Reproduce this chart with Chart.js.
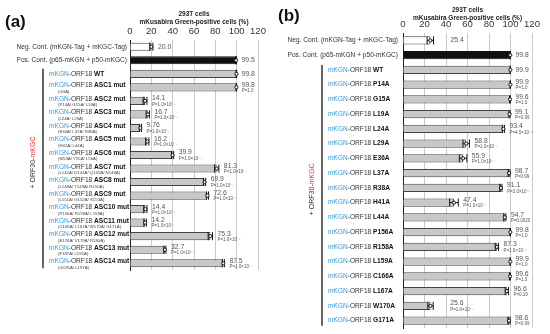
<!DOCTYPE html>
<html>
<head>
<meta charset="utf-8">
<script src="https://cdn.jsdelivr.net/npm/chart.js@4"></script>
<style>
body { margin: 0; background: #fff; width: 550px; height: 334px; overflow: hidden; position: relative; }
canvas { position: absolute; top: 0; }
</style>
</head>
<body>
<canvas id="chartA" width="275" height="334" style="left:0"></canvas>
<canvas id="chartB" width="275" height="334" style="left:275px"></canvas>
<script>
const FONT = '"Liberation Sans", Arial, sans-serif';
const P7 = 'P=1.0\u00d710\u207b\u2077';

// Panel (a): ASC mutants
const rowsA = ['Neg. Cont. (mKGN-Tag + mKGC-Tag)', 'Pos. Cont. (p65-mKGN + p50-mKGC)', 'WT',
    'ASC1 mut', 'ASC2 mut', 'ASC3 mut', 'ASC4 mut', 'ASC5 mut', 'ASC6 mut', 'ASC7 mut',
    'ASC8 mut', 'ASC9 mut', 'ASC10 mut', 'ASC11 mut', 'ASC12 mut', 'ASC13 mut', 'ASC14 mut'];
const subsA = ['', '', '', '(G3A)', '(P14A/ G15A/ L19A)', '(L24A/ L29A)', '(E36A/ L37A/ R38A)',
    '(H41A/ L44A)', '(M53A/ Y55A/ L56A)', '(L142A/ D144A/ Q145A/ N146A)', '(L148A/ T149A/ N150A)',
    '(L151A/ G152A/ S153A)', '(P156A/ R158A/ L159A)', '(C166A/ L167A/ W170A/ G171A)',
    '(E176A/ V179A/ R180A)', '(F187A/ L191A)', '(G195A/ L197A)'];
const valuesA = [20.0, 99.5, 99.8, 99.8, 14.1, 16.7, 9.76, 16.2, 39.9, 81.3, 69.9, 72.6, 14.4, 14.2, 75.3, 32.7, 87.5];
const errorsA = [1.5, 0.4, 0.2, 0.2, 1.8, 1.5, 1.0, 1.5, 1.0, 2.0, 1.0, 1.0, 1.5, 1.2, 2.0, 1.0, 1.0];
const pvalsA = ['', '', '', 'P=1.0', P7, P7, P7, P7, P7, P7, P7, P7, P7, P7, P7, P7, P7];

// Panel (b): single alanine mutants
const rowsB = ['Neg. Cont. (mKGN-Tag + mKGC-Tag)', 'Pos. Cont. (p65-mKGN + p50-mKGC)', 'WT',
    'P14A', 'G15A', 'L19A', 'L24A', 'L29A', 'E36A', 'L37A', 'R38A', 'H41A', 'L44A',
    'P156A', 'R158A', 'L159A', 'C166A', 'L167A', 'W170A', 'G171A'];
const valuesB = [25.4, 99.8, 99.9, 99.9, 99.6, 99.1, 93.4, 58.8, 55.9, 98.7, 91.1, 47.4, 94.7, 99.8, 87.3, 99.9, 99.6, 96.6, 25.6, 98.6];
const errorsB = [3, 0.2, 0.1, 0.1, 0.3, 0.5, 1, 3, 3.5, 0.8, 1, 4, 1, 0.2, 1.5, 0.1, 0.3, 1.5, 2.5, 1];
const pvalsB = ['', '', '', 'P=1.0', 'P=1.0', 'P=0.99', 'P=4.5\u00d710\u207b\u2076', P7, P7, 'P=0.99',
    'P=2.0\u00d710\u207b\u2077', P7, 'P=0.0020', 'P=1.0', P7, 'P=1.0', 'P=1.0', 'P=0.19', P7, 'P=0.99'];

const ticksX = [0, 20, 40, 60, 80, 100, 120];

function drawOrf18Label(ctx, name, x, y, size) {
    ctx.textAlign = 'left';
    ctx.font = size + 'px ' + FONT;
    ctx.fillStyle = '#3a9ad9';
    ctx.fillText('mKGN', x, y);
    x += ctx.measureText('mKGN').width;
    ctx.fillStyle = '#333';
    ctx.fillText('-ORF18 ', x, y);
    x += ctx.measureText('-ORF18 ').width;
    ctx.font = 'bold ' + size + 'px ' + FONT;
    ctx.fillStyle = '#111';
    ctx.fillText(name, x, y);
}

function makePanel(id, rows, values, errors, pvals, subs, opt) {
    const fills = rows.map((r, i) => i === 0 ? '#ffffff' : i === 1 ? '#111111' : '#c8c8c8');
    const lines = rows.map((r, i) => i === 1 ? '#111111' : '#444444');

    const extras = {
        id: 'extras' + id,
        afterDatasetsDraw(chart) {
            const ctx = chart.ctx;
            const xs = chart.scales.x, ys = chart.scales.y;
            const meta = chart.getDatasetMeta(0);
            ctx.save();
            rows.forEach((r, i) => {
                const yc = ys.getPixelForValue(i);
                const h = meta.data[i].height;
                // error bars
                const x1 = xs.getPixelForValue(values[i] - errors[i]);
                const x2 = xs.getPixelForValue(values[i] + errors[i]);
                ctx.strokeStyle = '#111';
                ctx.lineWidth = 1;
                ctx.beginPath();
                ctx.moveTo(x1, yc); ctx.lineTo(x2, yc);
                ctx.moveTo(x2, yc - h / 2); ctx.lineTo(x2, yc + h / 2);
                ctx.moveTo(x1, yc - h / 2); ctx.lineTo(x1, yc + h / 2);
                ctx.stroke();
                ctx.fillStyle = '#fff';
                ctx.beginPath();
                ctx.arc(xs.getPixelForValue(values[i]), yc, 1.6, 0, Math.PI * 2);
                ctx.fill(); ctx.stroke();

                // value + P labels
                const lx = x2 + 5 + (opt.nudge[i] || 0);
                ctx.textAlign = 'left';
                ctx.textBaseline = 'middle';
                ctx.fillStyle = '#555';
                ctx.font = opt.valSize + 'px ' + FONT;
                const txt = values[i].toFixed(values[i] < 10 ? 2 : 1);
                if (pvals[i]) {
                    ctx.fillText(txt, lx, yc - 2.5);
                    ctx.font = '4.5px ' + FONT;
                    ctx.fillText(pvals[i], lx, yc + 3.5);
                } else {
                    ctx.fillText(txt, lx, yc);
                }

                // row labels
                if (i < 2) {
                    ctx.textAlign = 'right';
                    ctx.font = opt.labSize + 'px ' + FONT;
                    ctx.fillStyle = '#333';
                    ctx.fillText(r, opt.ctrlRight, yc);
                } else if (subs && subs[i]) {
                    drawOrf18Label(ctx, r, opt.labelX, yc - 1.8, opt.labSize);
                    ctx.textAlign = 'left';
                    ctx.font = '4.3px ' + FONT;
                    ctx.fillStyle = '#444';
                    ctx.fillText(subs[i], opt.subX, yc + 4.3);
                } else {
                    drawOrf18Label(ctx, r, opt.labelX, yc, opt.labSize);
                }
            });

            // bracket and rotated group label
            const yTop = ys.getPixelForValue(2) - 5;
            const yBot = ys.getPixelForValue(rows.length - 1) + 5;
            ctx.strokeStyle = '#666';
            ctx.lineWidth = 2;
            ctx.beginPath();
            ctx.moveTo(opt.bracketX, yTop); ctx.lineTo(opt.bracketX, yBot);
            ctx.stroke();
            ctx.translate(opt.bracketX - 10, (yTop + yBot) / 2 - 6);
            ctx.rotate(-Math.PI / 2);
            ctx.font = '7px ' + FONT;
            const a = '+ ORF30-', b = 'mKGC';
            const wa = ctx.measureText(a).width, wb = ctx.measureText(b).width;
            ctx.textAlign = 'left';
            ctx.fillStyle = '#333';
            ctx.fillText(a, -(wa + wb) / 2, 0);
            ctx.fillStyle = '#e8413c';
            ctx.fillText(b, -(wa + wb) / 2 + wa, 0);
            ctx.restore();

            // titles and panel letter
            ctx.save();
            const cx = (chart.chartArea.left + chart.chartArea.right) / 2;
            ctx.textAlign = 'center';
            ctx.textBaseline = 'middle';
            ctx.fillStyle = '#222';
            ctx.font = 'bold 6.5px ' + FONT;
            ctx.fillText('293T cells', cx, opt.titleY);
            ctx.fillText('mKusabira Green-positive cells (%)', cx, opt.titleY + 8);
            ctx.textAlign = 'left';
            ctx.font = 'bold 17px ' + FONT;
            ctx.fillStyle = '#111';
            ctx.fillText(opt.letter, opt.letterX, opt.letterY);
            ctx.restore();
        }
    };

    return new Chart(document.getElementById(id), {
        type: 'bar',
        data: {
            labels: rows,
            datasets: [{
                data: values,
                backgroundColor: fills,
                borderColor: lines,
                borderWidth: 1,
                barPercentage: opt.barPct,
                categoryPercentage: 1
            }]
        },
        options: {
            indexAxis: 'y',
            responsive: false,
            animation: false,
            layout: { padding: opt.pad },
            plugins: { legend: { display: false }, tooltip: { enabled: false } },
            scales: {
                x: {
                    position: 'top',
                    min: 0, max: 120,
                    afterBuildTicks: s => { s.ticks = ticksX.map(v => ({ value: v })); },
                    ticks: { font: { size: 9.5, family: FONT }, color: '#333', padding: 3,
                        maxRotation: 0, minRotation: 0, autoSkip: false },
                    grid: { color: '#bdbdbd', lineWidth: 0.8, drawTicks: false },
                    border: { display: false },
                    afterFit: s => { s.height = opt.axisH; }
                },
                y: {
                    ticks: { display: false },
                    grid: { display: false, drawTicks: false },
                    border: { color: '#222', width: 1 },
                    afterFit: s => { s.width = 0; }
                }
            }
        },
        plugins: [extras]
    });
}

makePanel('chartA', rowsA, valuesA, errorsA, pvalsA, subsA, {
    pad: { left: 130, right: 17, top: 0, bottom: 64 },
    axisH: 40, barPct: 0.6, valSize: 6.8, labSize: 6.6,
    ctrlRight: 127, labelX: 49, subX: 58, bracketX: 43,
    titleY: 14, letter: '(a)', letterX: 5, letterY: 22, nudge: {}
});

makePanel('chartB', rowsB, valuesB, errorsB, pvalsB, null, {
    pad: { left: 128, right: 18, top: 0, bottom: 6 },
    axisH: 33, barPct: 0.55, valSize: 6.8, labSize: 6.6,
    ctrlRight: 123, labelX: 53, subX: 0, bracketX: 47,
    titleY: 10, letter: '(b)', letterX: 3, letterY: 16, nudge: { 0: 12, 18: 12 }
});
</script>
</body>
</html>
